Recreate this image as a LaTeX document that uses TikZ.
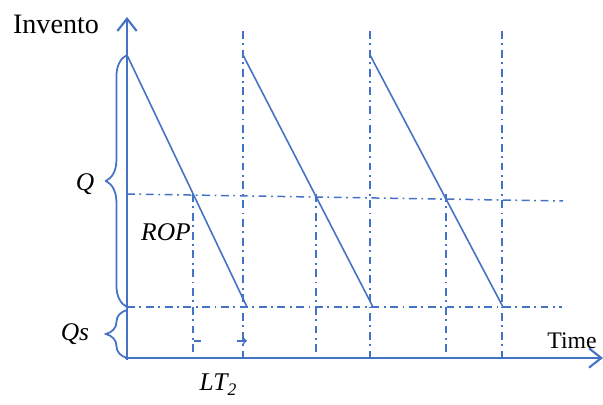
\documentclass[tikz,border=0pt]{standalone}
\usepackage{fontspec}
\setmainfont{Liberation Serif}
\usetikzlibrary{arrows.meta,decorations.pathreplacing}

\definecolor{lineblue}{RGB}{68,114,196}

\begin{document}
\begin{tikzpicture}[x=0.02cm, y=-0.02cm,
    axis/.style={draw=lineblue, line width=1.3pt, -{Straight Barb[length=7pt, width=11pt, line width=1.2pt]}},
    saw/.style={draw=lineblue, line width=0.9pt},
    guide/.style={draw=lineblue, line width=0.85pt, dash pattern=on 4.5pt off 2.6pt on 1pt off 2.6pt},
    brc/.style={draw=lineblue, line width=1pt, decorate, decoration={brace, amplitude=12pt}},
    lbl/.style={font=\fontsize{14.5}{16}\selectfont\itshape, inner sep=0pt}
]
\useasboundingbox (0,0) rectangle (603,405);

% axes
\coordinate (o) at (127,358);
\coordinate (ytop) at (127,17);
\coordinate (xend) at (603,358);
\draw[axis] (127,360) -- (ytop);
\draw[axis] (125,358) -- (xend);

% sawtooth
\coordinate (t1) at (127,55);
\coordinate (b1) at (247,307);
\coordinate (t2) at (243,55);
\coordinate (b2) at (373,307);
\coordinate (t3) at (370,55);
\coordinate (b3) at (503,307);
\draw[saw] (t1) -- (b1);
\draw[saw] (t2) -- (b2);
\draw[saw] (t3) -- (b3);

% guide lines
\foreach \x in {243,370,502}
    \draw[guide] (\x,31) -- (\x,358);
\foreach \x in {193,316,446}
    \draw[guide] (\x,194) -- (\x,358);
\draw[guide] (127,194) -- (563,201);
\draw[guide] (127,307) -- (562,307);

% lead time marks
\draw[draw=lineblue, line width=0.8pt] (194,341) -- (201,341);
\draw[draw=lineblue, line width=0.8pt, -{Straight Barb[length=2pt, width=4pt]}] (237,341) -- (247,341);

% braces
\draw[brc] (127,307) -- (127,55);
\draw[brc] (127,358) -- (127,310);

\node[font=\fontsize{16}{18}\selectfont, inner sep=0pt] (inv) at (56,24) {Invento};
\node[lbl] (q) at (85,184) {Q};
\node[lbl] (qs) at (75,334) {Qs};
\node[lbl] (rop) at (166,232) {ROP};
\node[font=\fontsize{13.5}{15}\selectfont, inner sep=0pt] (time) at (572,341) {Time};
\node[lbl] (lt) at (218,385) {LT\raisebox{-0.45ex}{\fontsize{10}{10}\selectfont 2}};
\end{tikzpicture}
\end{document}
